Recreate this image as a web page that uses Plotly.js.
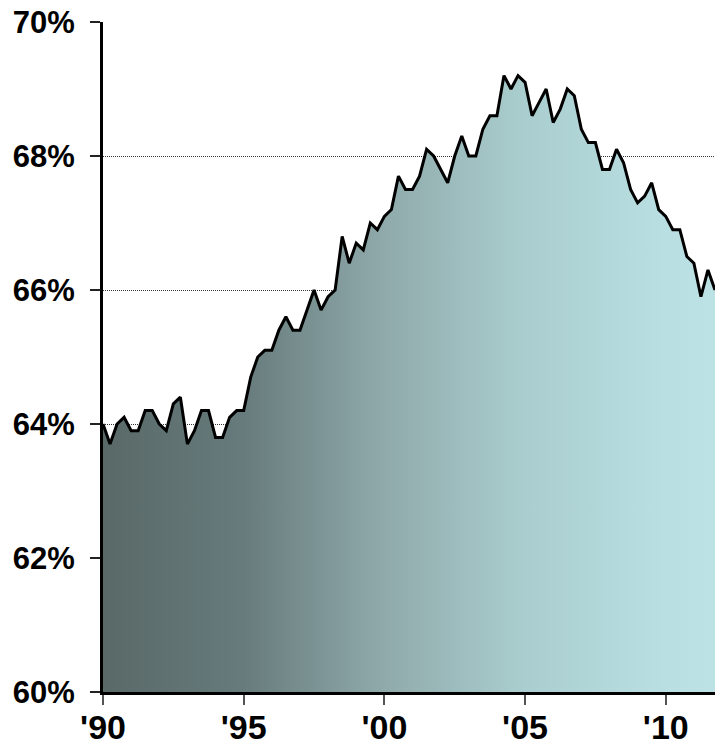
<!DOCTYPE html>
<html>
<head>
<meta charset="utf-8">
<script src="https://cdn.plot.ly/plotly-3.0.1.min.js"></script>
<style>
html, body { margin: 0; padding: 0; background: #ffffff; }
#chart { width: 715px; height: 745px; }
</style>
</head>
<body>
<div id="chart"></div>
<script>
// Quarterly homeownership rate (%), 1990 Q1 - 2011 Q4
var years = [1990,1991,1992,1993,1994,1995,1996,1997,1998,1999,2000,
             2001,2002,2003,2004,2005,2006,2007,2008,2009,2010,2011];
var rate1990s = [
  64.0, 63.7, 64.0, 64.1,
  63.9, 63.9, 64.2, 64.2,
  64.0, 63.9, 64.3, 64.4,
  63.7, 63.9, 64.2, 64.2,
  63.8, 63.8, 64.1, 64.2,
  64.2, 64.7, 65.0, 65.1,
  65.1, 65.4, 65.6, 65.4,
  65.4, 65.7, 66.0, 65.7,
  65.9, 66.0, 66.8, 66.4,
  66.7, 66.6, 67.0, 66.9
];
var rate2000s = [
  67.1, 67.2, 67.7, 67.5,
  67.5, 67.7, 68.1, 68.0,
  67.8, 67.6, 68.0, 68.3,
  68.0, 68.0, 68.4, 68.6,
  68.6, 69.2, 69.0, 69.2,
  69.1, 68.6, 68.8, 69.0,
  68.5, 68.7, 69.0, 68.9,
  68.4, 68.2, 68.2, 67.8,
  67.8, 68.1, 67.9, 67.5,
  67.3, 67.4, 67.6, 67.2
];
var rate2010s = [
  67.1, 66.9, 66.9, 66.5,
  66.4, 65.9, 66.3, 66.0
];
var tickYears = [1990, 1995, 2000, 2005, 2010];
var tickLabels = ["'90", "'95", "'00", "'05", "'10"];
var yTicks = [60, 62, 64, 66, 68, 70];
var yTickLabels = ["60%", "62%", "64%", "66%", "68%", "70%"];

var rates = rate1990s.concat(rate2000s, rate2010s);
var quarterX = [];
years.forEach(function (yr) {
  for (var q = 0; q < 4; q++) quarterX.push(yr + q * 0.25);
});

var trace = {
  x: quarterX,
  y: rates,
  type: 'scatter',
  mode: 'lines',
  line: { color: '#000000', width: 3 },
  fill: 'tozeroy',
  fillgradient: {
    type: 'horizontal',
    colorscale: [
      [0.00, '#596968'],
      [0.23, '#677b7c'],
      [0.46, '#90aaab'],
      [0.69, '#aacecf'],
      [0.92, '#badfe2'],
      [1.00, '#bde2e5']
    ]
  },
  hoverinfo: 'skip'
};

var layout = {
  width: 715,
  height: 745,
  margin: { l: 103, r: 0, t: 22, b: 53 },
  paper_bgcolor: '#ffffff',
  plot_bgcolor: '#ffffff',
  showlegend: false,
  font: { family: 'Liberation Sans, Arial, sans-serif', color: '#000000' },
  xaxis: {
    range: [1990, 2011.75],
    tickmode: 'array',
    tickvals: tickYears,
    ticktext: tickLabels,
    ticks: 'outside',
    ticklen: 10,
    tickwidth: 2,
    tickcolor: '#555555',
    ticklabelstandoff: -7,
    showline: true,
    linecolor: '#000000',
    linewidth: 3,
    showgrid: false,
    zeroline: false,
    tickfont: { family: 'Liberation Sans, Arial, sans-serif', size: 34, color: '#000000', weight: 'bold' }
  },
  yaxis: {
    range: [60, 70],
    tickmode: 'array',
    tickvals: yTicks,
    ticktext: yTickLabels,
    ticks: 'outside',
    ticklen: 10,
    tickwidth: 2,
    tickcolor: '#222222',
    ticklabelstandoff: 9,
    showline: true,
    linecolor: '#000000',
    linewidth: 3,
    showgrid: true,
    gridcolor: '#333333',
    gridwidth: 1,
    griddash: '1px,1px',
    zeroline: false,
    tickfont: { family: 'Liberation Sans, Arial, sans-serif', size: 31, color: '#000000', weight: 'bold' }
  }
};

Plotly.newPlot('chart', [trace], layout, { staticPlot: true, displayModeBar: false });
</script>
</body>
</html>
